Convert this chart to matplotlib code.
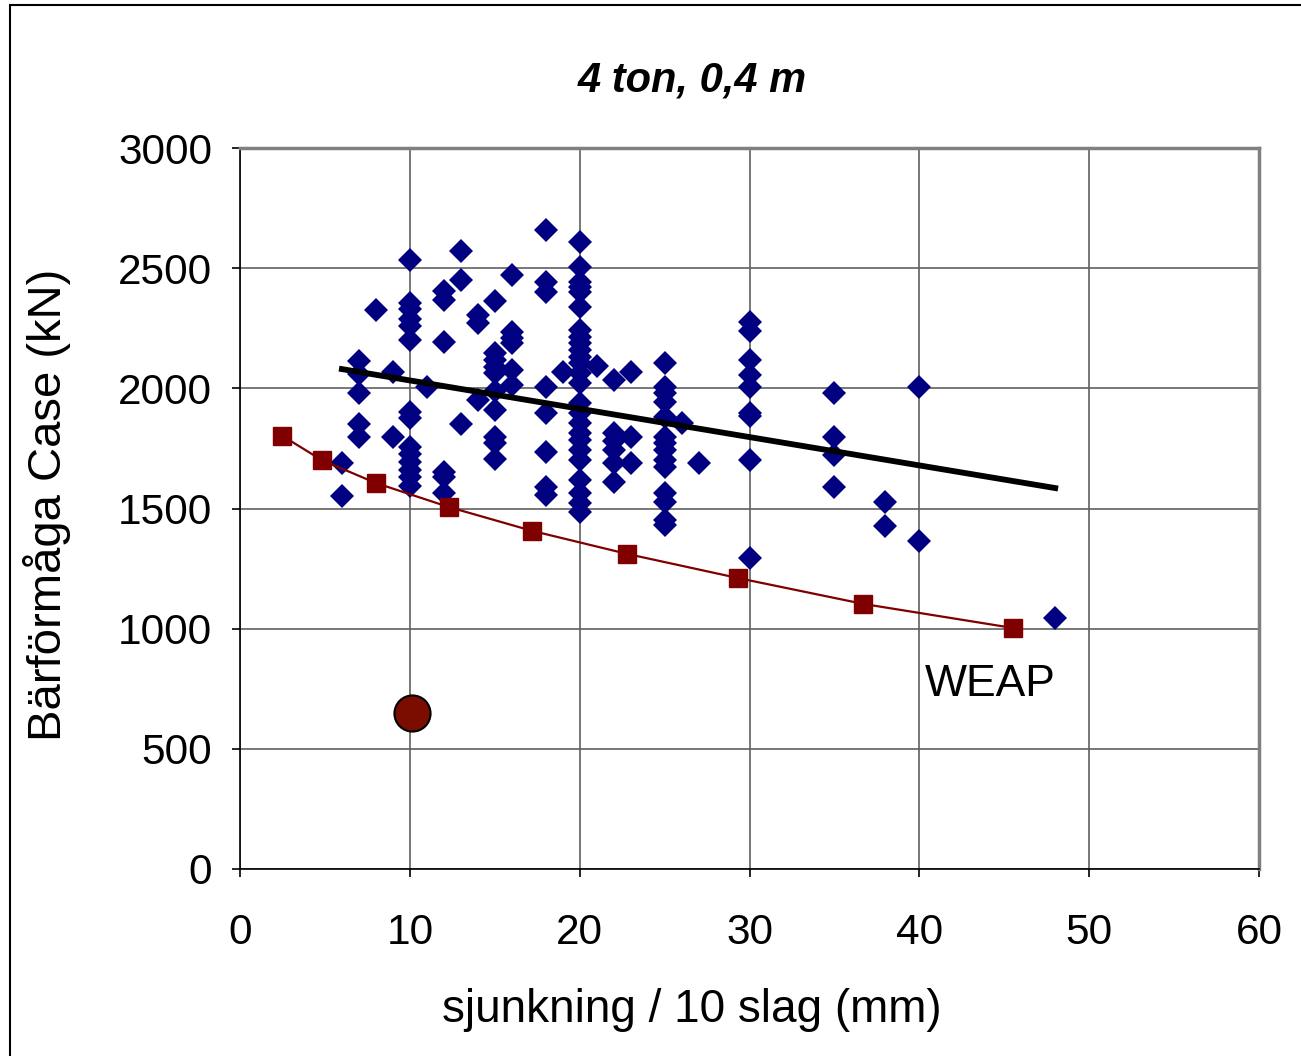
import matplotlib
matplotlib.use("Agg")
import matplotlib.pyplot as plt
from matplotlib.patches import Rectangle

plt.rcParams["font.family"] = ["Liberation Sans", "DejaVu Sans"]

# Measured points (sjunkning per 10 slag in mm, bearing capacity in kN)
meas_x = ([6, 6] + [7] * 5 + [8] + [9, 9] + [10] * 14 + [11] + [12] * 6 + [13] * 3
          + [14] * 3 + [15] * 10 + [16] * 6 + [18] * 8 + [19] + [20] * 25 + [21]
          + [22] * 6 + [23] * 3 + [25] * 14 + [26] + [27] + [30] * 9 + [35] * 4
          + [38] * 2 + [40] * 2 + [48])
meas_y = [1690, 1552,
          2115, 2060, 1980, 1852, 1796,
          2326,
          2068, 1798,
          2536, 2355, 2330, 2290, 2260, 2200, 1902, 1875, 1756, 1725, 1695, 1660, 1630, 1595,
          2006,
          2405, 2366, 2193, 1652, 1631, 1565,
          2572, 2451, 1852,
          2305, 2272, 1952,
          2365, 2145, 2118, 2089, 2062, 1990, 1910, 1798, 1773, 1705,
          2472, 2235, 2210, 2189, 2075, 2014,
          2660, 2443, 2401, 2006, 1898, 1735, 1590, 1556,
          2068,
          2609, 2505, 2443, 2422, 2401, 2339, 2243, 2214, 2189, 2160, 2131, 2106, 2064,
          2022, 1939, 1898, 1856, 1814, 1785, 1744, 1702, 1619, 1565, 1523, 1485,
          2093,
          2035, 1814, 1780, 1744, 1690, 1610,
          2068, 1798, 1690,
          2106, 2006, 1981, 1943, 1881, 1798, 1773, 1744, 1702, 1673, 1565, 1527, 1452, 1431,
          1856,
          1690,
          2277, 2240, 2118, 2056, 2006, 1898, 1885, 1702, 1294,
          1981, 1798, 1723, 1590,
          1527, 1427,
          2006, 1365,
          1044]

# Linear trend of measured points
trend_x = [6, 48]
trend_y = [2080, 1585]

# WEAP curve
weap_x = [2.5, 4.8, 8.0, 12.3, 17.2, 22.8, 29.3, 36.7, 45.5]
weap_y = [1802, 1702, 1606, 1506, 1407, 1311, 1211, 1103, 1003]

# Single test point
test_x = [10.1]
test_y = [649]

fig = plt.figure(figsize=(13.01, 10.56), dpi=100)
fig.patches.append(Rectangle((10 / 1301, -0.1), 1.2, 1.1 - 5 / 1056, transform=fig.transFigure,
                             fill=False, edgecolor="black", linewidth=1.5))
ax = fig.add_axes([240 / 1301, 187 / 1056, 1019 / 1301, 721 / 1056])

ax.plot(meas_x, meas_y, "D", color="#000080", markersize=12, markeredgewidth=0, zorder=3)
ax.plot(trend_x, trend_y, color="black", linewidth=4.2, zorder=4)
ax.plot(weap_x, weap_y, "-s", color="#800000", markersize=12.5, linewidth=1.6, zorder=4)
ax.plot(test_x, test_y, "o", color="#7B0C00", markeredgecolor="black", markersize=26,
        markeredgewidth=1.5, zorder=5)

ax.text(40.3, 766, "WEAP", fontsize=32, ha="left", va="center")

ax.set_xlim(0, 60)
ax.set_ylim(0, 3000)
ax.set_xticks(range(0, 61, 10))
ax.set_yticks(range(0, 3001, 500))
ax.grid(True, color="#606060", linewidth=1.2)
ax.set_axisbelow(True)
ax.tick_params(labelsize=30.5, length=6, width=1.2, direction="out")
ax.tick_params(axis="x", pad=26)
ax.tick_params(axis="y", pad=14)

for side in ["top", "right"]:
    ax.spines[side].set_color("#808080")
    ax.spines[side].set_linewidth(2.5)
for side in ["left", "bottom"]:
    ax.spines[side].set_linewidth(1.2)

ax.set_xlabel("sjunkning / 10 slag (mm)", fontsize=33, va="center", ha="center")
ax.set_ylabel("Bärförmåga Case (kN)", fontsize=34, va="center", ha="center")
ax.xaxis.set_label_coords((692 - 240) / 1019, -(1010 - 869) / 721)
ax.yaxis.set_label_coords(-(240 - 47) / 1019, (869 - 505) / 721)
fig.text(692 / 1301, 1 - 80 / 1056, "4 ton, 0,4 m", fontsize=30, fontweight="bold",
         fontstyle="italic", ha="center", va="center")

plt.savefig("out.png", dpi=100)
